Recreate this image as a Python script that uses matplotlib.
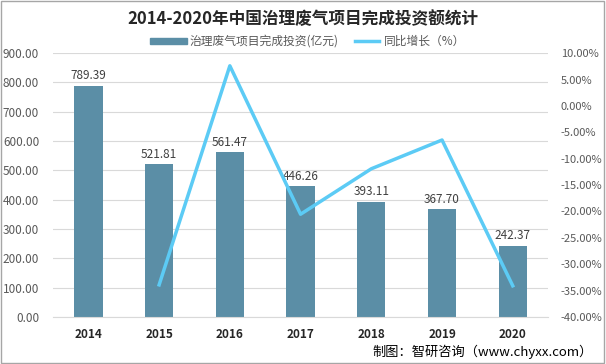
import numpy as np
import matplotlib
matplotlib.use('Agg')
import matplotlib.pyplot as plt
from matplotlib.patches import Rectangle

plt.rcParams['font.family'] = ['Noto Sans CJK SC', 'DejaVu Sans']

# Data
years = ['2014', '2015', '2016', '2017', '2018', '2019', '2020']
investment = [789.39, 521.81, 561.47, 446.26, 393.11, 367.70, 242.37]
growth = [None, -33.90, 7.60, -20.52, -11.91, -6.46, -34.08]

bar_color = '#5b8ea6'
line_color = '#5ccbf5'
tick_color = '#595959'

fig = plt.figure(figsize=(6.06, 3.64), dpi=100)
ax = fig.add_axes([0.0875, 0.129, 0.817, 0.725])
ax2 = ax.twinx()

x = np.arange(len(years))
ax.bar(x, investment, width=0.4, color=bar_color, zorder=2)
for xi, v in zip(x, investment):
    ax.text(xi, v + 12, f'{v:.2f}', ha='center', va='bottom', fontsize=8.5, color='#404040', zorder=5)

gx = [xi for xi, g in zip(x, growth) if g is not None]
gy = [g for g in growth if g is not None]
ax2.plot(gx, gy, color=line_color, linewidth=2.5, zorder=3)

ax.set_xlim(-0.5, len(years) - 0.5)
ax.set_ylim(0, 900)
ax.set_yticks(np.arange(0, 901, 100))
ax.set_yticklabels([f'{v:.2f}' for v in np.arange(0, 901, 100)])
ax2.set_ylim(-40, 10)
ax2.set_yticks(np.arange(-40, 11, 5))
ax2.set_yticklabels([f'{v:.2f}%' for v in np.arange(-40, 11, 5)])

ax.yaxis.grid(True, color='#d9d9d9', linewidth=0.8, zorder=0)
ax.set_axisbelow(True)
ax.set_xticks(x)
ax.set_xticklabels(years, fontsize=8.5, fontweight='bold', color='#262626')
ax.tick_params(axis='x', length=0, pad=8)
ax.tick_params(axis='y', length=0, labelsize=8.5, labelcolor=tick_color, pad=10)
ax2.tick_params(axis='y', length=0, labelsize=8, labelcolor=tick_color, pad=9)
for a in (ax, ax2):
    for s in ['left', 'right', 'top']:
        a.spines[s].set_visible(False)
ax.spines['bottom'].set_color('#d9d9d9')
ax2.spines['bottom'].set_visible(False)

fig.text(0.5, 0.948, '2014-2020年中国治理废气项目完成投资额统计', ha='center', va='center',
         fontsize=12, fontweight='bold', color='#262626')

# legend
fig.patches.append(Rectangle((0.248, 0.878), 0.06, 0.018, transform=fig.transFigure, color=bar_color))
fig.text(0.313, 0.887, '治理废气项目完成投资(亿元)', ha='left', va='center', fontsize=8.5, color=tick_color)
fig.lines.append(plt.Line2D([0.585, 0.625], [0.887, 0.887], transform=fig.transFigure,
                            color=line_color, linewidth=2.5))
fig.text(0.633, 0.887, '同比增长（%）', ha='left', va='center', fontsize=8.5, color=tick_color)

fig.text(0.978, 0.033, '制图：智研咨询（www.chyxx.com）', ha='right', va='center', fontsize=9.5, color='#000000')

# border
fig.patches.append(Rectangle((0.002, 0.003), 0.995, 0.994, transform=fig.transFigure,
                             fill=False, edgecolor='#a6a6a6', linewidth=1))

fig.savefig('out.png', dpi=100)
